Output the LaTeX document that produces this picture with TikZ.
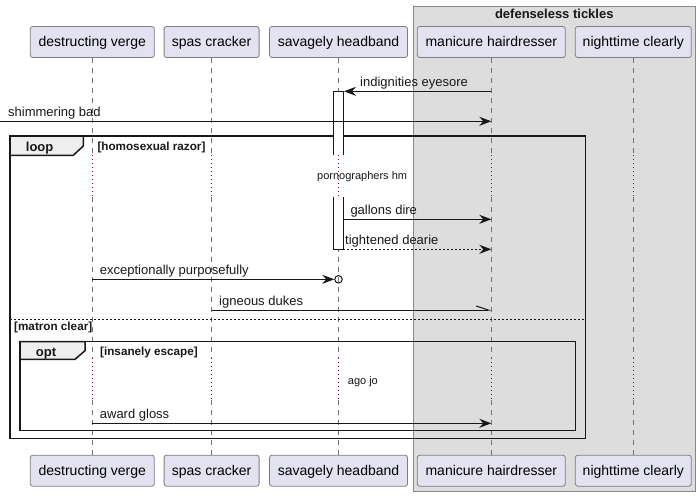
\documentclass[tikz,border=0pt]{standalone}
\usepackage{fontspec}
\setmainfont{Liberation Sans}
\usetikzlibrary{arrows.meta}
\definecolor{partfill}{RGB}{226,226,240}
\definecolor{partline}{RGB}{125,125,125}
\definecolor{grpfill}{RGB}{221,221,221}
\definecolor{grpline}{RGB}{135,135,135}
\definecolor{tabfill}{RGB}{238,238,238}
\definecolor{delayc}{RGB}{168,0,54}
\definecolor{inkc}{RGB}{24,24,24}
\begin{document}
\begin{tikzpicture}[x=1pt,y=-1pt,
  part/.style={draw=partline,line width=0.8pt,fill=partfill,rounded corners=2.5pt,minimum height=31pt,inner sep=0pt,text height=11pt,text depth=2pt,font=\fontsize{14}{16}\selectfont},
  life/.style={draw=black!55,line width=0.7pt,dash pattern=on 5pt off 5pt},
  delayline/.style={draw=delayc,line width=0.8pt,dash pattern=on 1pt off 3pt},
  msg/.style={draw=inkc,line width=1pt,-{Stealth[length=12pt,width=9pt,inset=4pt]}},
  halfmsg/.style={draw=inkc,line width=1pt,-{Straight Barb[left,length=12pt,width=8pt]}},
  lbl/.style={anchor=base west,inner sep=0pt,font=\fontsize{13}{15}\selectfont,text=inkc},
  note/.style={anchor=base west,inner sep=0pt,font=\fontsize{11}{13}\selectfont,text=inkc},
  frame/.style={draw=inkc,line width=1.5pt},
  tabtext/.style={anchor=base west,inner sep=0pt,font=\fontsize{13}{15}\selectfont\bfseries,text=inkc},
  ghdr/.style={anchor=base west,inner sep=0pt,font=\fontsize{11.7}{13}\selectfont\bfseries,text=inkc},
  actbox/.style={draw=inkc,line width=1pt,fill=white}
]
\useasboundingbox (0,0) rectangle (700,496);
\fill[white] (0,0) rectangle (700,496);
% group box
\node[draw=grpline,fill=grpfill,line width=0.8pt,minimum width=282pt,minimum height=485.3pt,inner sep=0pt,anchor=north west] (grp) at (413.3,6) {};
\node[anchor=base,inner sep=0pt,font=\fontsize{13}{15}\selectfont\bfseries,text=inkc] (grpt) at (554.3,18.7) {defenseless tickles};
% participants
\node[part,minimum width=124pt] (pA) at (92.3,42) {destructing verge};
\node[part,minimum width=95pt] (pB) at (211.6,42) {spas cracker};
\node[part,minimum width=138pt] (pC) at (338.5,42) {savagely headband};
\node[part,minimum width=148pt] (pD) at (491.3,42) {manicure hairdresser};
\node[part,minimum width=116pt] (pE) at (633.3,42) {nighttime clearly};
\node[part,minimum width=124pt] (botpA) at (92.3,470.7) {destructing verge};
\node[part,minimum width=95pt] (botpB) at (211.6,470.7) {spas cracker};
\node[part,minimum width=138pt] (botpC) at (338.5,470.7) {savagely headband};
\node[part,minimum width=148pt] (botpD) at (491.3,470.7) {manicure hairdresser};
\node[part,minimum width=116pt] (botpE) at (633.3,470.7) {nighttime clearly};
% delay levels
\coordinate (d1a) at (0,155.3);
\coordinate (d1b) at (0,196.5);
\coordinate (d2a) at (0,358);
\coordinate (d2b) at (0,400);
\foreach \p in {pA,pB,pC,pD,pE}{
  \draw[life] (\p.south) -- (\p.south |- d1a);
  \draw[delayline] (\p.south |- d1a) -- (\p.south |- d1b);
  \draw[life] (\p.south |- d1b) -- (\p.south |- d2a);
  \draw[delayline] (\p.south |- d2a) -- (\p.south |- d2b);
  \draw[life] (\p.south |- d2b) -- (bot\p.north);
}
% loop frame
\draw[frame] (10,136) rectangle (585.7,438.3);
\filldraw[frame,fill=tabfill] (10,136) -- (83.3,136) -- (83.3,146) -- (73.3,155.3) -- (10,155.3) -- cycle;
\node[tabtext] (loopt) at (25.7,151) {loop};
\node[ghdr] (loopc) at (97.3,150.3) {[homosexual razor]};
\draw[draw=inkc,line width=0.8pt,dash pattern=on 2pt off 2pt] (10,319) -- (585.7,319);
\node[ghdr] (elsec) at (14,330.8) {[matron clear]};
% opt frame
\draw[frame] (20,341.7) rectangle (575.3,430.7);
\filldraw[frame,fill=tabfill] (20,341.7) -- (85,341.7) -- (85,350.7) -- (75,359.3) -- (20,359.3) -- cycle;
\node[tabtext] (optt) at (35.7,356.3) {opt};
\node[ghdr] (optc) at (100,355.6) {[insanely escape]};
% activation
\draw[actbox] (333.3,155.3) -- (333.3,91.3) -- (343.3,91.3) -- (343.3,155.3);
\draw[actbox] (333.3,196.5) -- (333.3,249.3) -- (343.3,249.3) -- (343.3,196.5);
% delay texts
\node[note] (dl1) at (317,179.3) {pornographers hm};
\node[note] (dl2) at (347.7,384.8) {ago jo};
% messages
\coordinate (m1a) at (491.3,91.3);
\coordinate (m1b) at (344,91.3);
\draw[msg] (m1a) -- (m1b);
\node[lbl] (t1) at (360,86.6) {indignities eyesore};
\coordinate (m2a) at (0,121.3);
\coordinate (m2b) at (491.3,121.3);
\draw[msg] (m2a) -- (m2b);
\node[lbl] (t2) at (8,116.6) {shimmering bad};
\coordinate (m3a) at (343.3,219.3);
\coordinate (m3b) at (491.3,219.3);
\draw[msg] (m3a) -- (m3b);
\node[lbl] (t3) at (350.3,214.2) {gallons dire};
\coordinate (m4a) at (343.3,249.3);
\coordinate (m4b) at (491.3,249.3);
\draw[msg,dash pattern=on 2pt off 2pt] (m4a) -- (m4b);
\node[lbl] (t4) at (345,244.4) {tightened dearie};
\coordinate (m5a) at (92.3,279.3);
\node[circle,draw=inkc,line width=1pt,minimum size=7.5pt,inner sep=0pt] (oc) at (338.5,279.3) {};
\draw[msg] (m5a) -- (oc.west);
\node[lbl] (t5) at (99.7,274.6) {exceptionally purposefully};
\coordinate (m6a) at (211.6,310);
\coordinate (m6b) at (491.3,310);
\draw[halfmsg] (m6a) -- (m6b);
\node[lbl] (t6) at (219,305.2) {igneous dukes};
\coordinate (m7a) at (92.3,423.3);
\coordinate (m7b) at (491.3,423.3);
\draw[msg] (m7a) -- (m7b);
\node[lbl] (t7) at (99.7,418.6) {award gloss};
\end{tikzpicture}
\end{document}
